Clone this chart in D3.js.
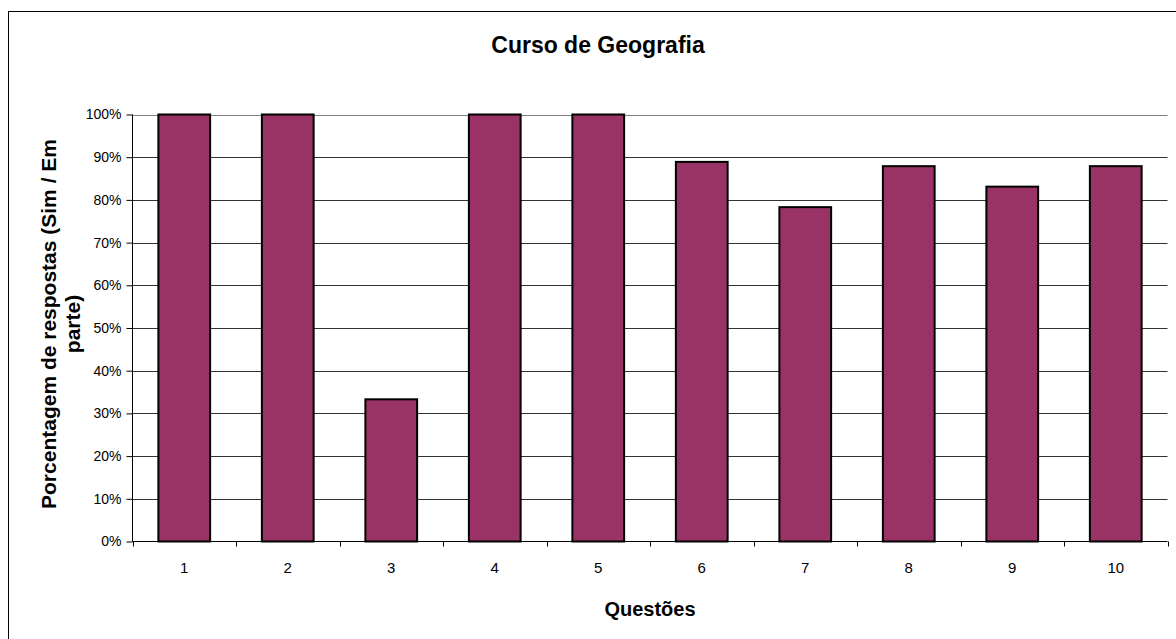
<!DOCTYPE html>
<html><head><meta charset="utf-8">
<script src="https://cdn.jsdelivr.net/npm/d3@7/dist/d3.min.js"></script>
<style>body{margin:0;background:#fff}svg{display:block}text{font-family:"Liberation Sans",Arial,sans-serif}</style>
</head><body>
<svg id="c" width="1176" height="639"></svg>
<script>
const categories = ["1","2","3","4","5","6","7","8","9","10"];
const values = [1.00, 1.00, 0.333, 1.00, 1.00, 0.889, 0.783, 0.879, 0.831, 0.879];
const yTicks = [0,0.1,0.2,0.3,0.4,0.5,0.6,0.7,0.8,0.9,1.0];
const title = "Curso de Geografia";
const xTitle = "Questões";
const yTitleLines = ["Porcentagem de respostas (Sim / Em", "parte)"];

const svg = d3.select("#c");
const m = {left:132.5, right:1167.5, top:114.5, bottom:541.5};

svg.append("rect").attr("x",8.5).attr("y",11.5).attr("width",1180).attr("height",700)
  .attr("fill","#fff").attr("stroke","#000").attr("stroke-width",1);

const x = d3.scaleBand().domain(categories).range([m.left, m.right]).paddingInner(0.5).paddingOuter(0.25);
const xb = d3.scaleBand().domain(categories).range([m.left, m.right]);
const y = d3.scaleLinear().domain([0,1]).range([m.bottom, m.top]);

// gridlines
svg.append("g").selectAll("line").data(yTicks.filter(d=>d>0)).join("line")
  .attr("x1",m.left).attr("x2",m.right)
  .attr("y1",d=>Math.round(y(d))+0.5).attr("y2",d=>Math.round(y(d))+0.5)
  .attr("stroke",(d)=>d===1?"#808080":"#333").attr("stroke-width",1);

// bars
svg.append("g").selectAll("rect").data(values).join("rect")
  .attr("x",(d,i)=>x(categories[i]))
  .attr("width",x.bandwidth())
  .attr("y",d=>y(d))
  .attr("height",d=>y(0)-y(d))
  .attr("fill","#993366").attr("stroke","#000").attr("stroke-width",2);

// y axis
const yAxis = d3.axisLeft(y).tickValues(yTicks).tickFormat(d3.format(".0%")).tickSize(6).tickPadding(5);
const gy = svg.append("g").attr("transform",`translate(${m.left},0)`).call(yAxis);
gy.select(".domain").attr("d",`M0,${m.top}V${m.bottom}`).attr("stroke","#000");
gy.selectAll(".tick line").attr("stroke","#000");
gy.selectAll("text").attr("font-size",14).attr("fill","#000").style("font-family","'Liberation Sans',Arial,sans-serif");

// x axis
const gx = svg.append("g").attr("transform",`translate(0,${m.bottom})`);
gx.append("line").attr("x1",m.left).attr("x2",m.right).attr("y1",0).attr("y2",0).attr("stroke","#000");
const bounds = categories.map(c=>xb(c)).concat([m.right]);
gx.selectAll("line.t").data(bounds).join("line").attr("class","t")
  .attr("x1",d=>Math.round(d)+0.5).attr("x2",d=>Math.round(d)+0.5).attr("y1",0).attr("y2",5).attr("stroke","#000");
gx.selectAll("text").data(categories).join("text")
  .attr("x",d=>xb(d)+xb.bandwidth()/2).attr("y",31)
  .attr("text-anchor","middle").attr("font-size",15).text(d=>d);

// titles
svg.append("text").attr("x",598).attr("y",53).attr("text-anchor","middle")
  .attr("font-size",23).attr("font-weight","bold").text(title);
svg.append("text").attr("x",(m.left+m.right)/2).attr("y",616).attr("text-anchor","middle")
  .attr("font-size",20).attr("font-weight","bold").text(xTitle);
const yt = svg.append("text").attr("transform",`translate(49,324) rotate(-90)`)
  .attr("text-anchor","middle").attr("font-size",21).attr("font-weight","bold");
yTitleLines.forEach((l,i)=>yt.append("tspan").attr("x",0).attr("dy",i===0?"0.35em":24).text(l));
</script>
</body></html>
